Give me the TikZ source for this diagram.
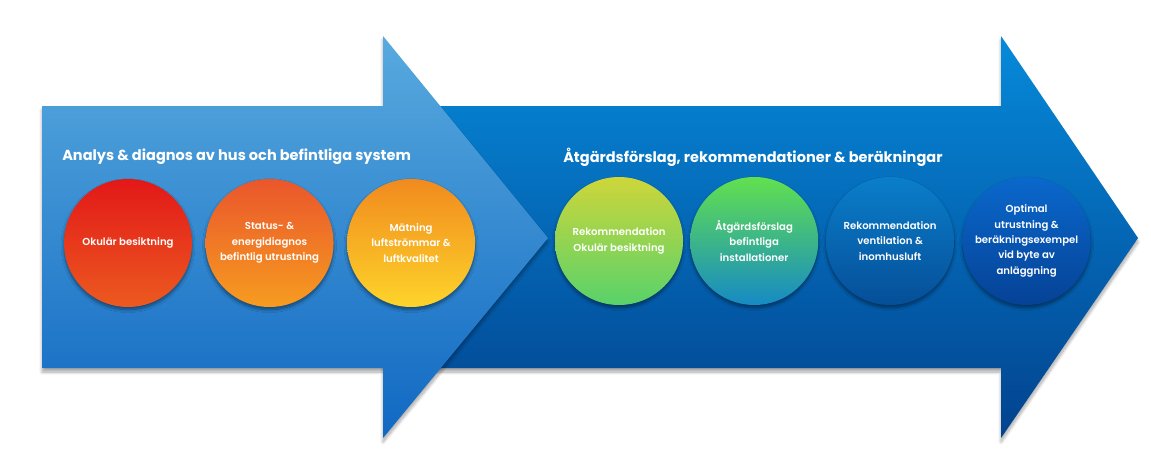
\documentclass[tikz,border=0pt]{standalone}
\usepackage{fontspec}
\setmainfont{Poppins}
\newfontfamily\bubblefont{Poppins SemiBold}
\usepackage{tikz}
\usetikzlibrary{positioning, shadows.blur}

\definecolor{phaseonetop}{RGB}{88,170,222}
\definecolor{phaseonebot}{RGB}{16,104,194}
\definecolor{phasetwotop}{RGB}{6,138,218}
\definecolor{phasetwobot}{RGB}{2,66,142}

\begin{document}
\begin{tikzpicture}[x=0.75pt, y=-0.75pt,
    bubble/.style={
      circle, minimum size=96pt, inner sep=0pt, align=center,
      text=white, font=\bubblefont\fontsize{7.6}{11.5}\selectfont,
      blur shadow={shadow xshift=0pt, shadow yshift=-2pt,
        shadow blur steps=10, shadow opacity=45}
    },
    headline/.style={anchor=west, inner sep=0pt, text=white,
      font=\bfseries\fontsize{10.9}{13}\selectfont},
    phaseshadow/.style={blur shadow={shadow xshift=0pt, shadow yshift=-3pt,
        shadow blur steps=10, shadow opacity=35}},
  ]
  \useasboundingbox (0,0) rectangle (1151,453);

  % the two big arrows
  \shade[phaseshadow, top color=phasetwotop, bottom color=phasetwobot]
    (383,106) -- (1001,106) -- (1001,36) -- (1138,238)
    -- (1001,438) -- (1001,368) -- (383,368) -- cycle;
  \shade[phaseshadow, top color=phaseonetop, bottom color=phaseonebot]
    (42,106) -- (383,106) -- (383,36) -- (548,238)
    -- (383,438) -- (383,368) -- (42,368) -- cycle;

  % headings
  \node[headline] (t1) at (62,157) {Analys \& diagnos av hus och befintliga system};
  \node[headline] (t2) at (563,157) {Åtgärdsförslag, rekommendationer \& beräkningar};

  % analysis
  \node[bubble, top color={rgb,255:red,226;green,24;blue,24}, bottom color={rgb,255:red,236;green,90;blue,32}]
    (b1) at (128,243) {Okulär besiktning};
  \node[bubble, top color={rgb,255:red,234;green,86;blue,44}, bottom color={rgb,255:red,246;green,156;blue,32}, right=9.75pt of b1]
    (b2) {Status- \&\\energidiagnos\\befintlig utrustning};
  \node[bubble, top color={rgb,255:red,241;green,138;blue,30}, bottom color={rgb,255:red,253;green,212;blue,42}, right=9.75pt of b2]
    (b3) {Mätning\\luftströmmar \&\\luftkvalitet};

  % recommendations
  \node[bubble, top color={rgb,255:red,206;green,214;blue,58}, bottom color={rgb,255:red,88;green,210;blue,106}]
    (b4) at (619,241) {Rekommendation\\Okulär besiktning};
  \node[bubble, top color={rgb,255:red,98;green,224;blue,78}, bottom color={rgb,255:red,22;green,138;blue,196}, right=5pt of b4]
    (b5) {Åtgärdsförslag\\befintliga\\installationer};
  \node[bubble, top color={rgb,255:red,10;green,126;blue,202}, bottom color={rgb,255:red,6;green,78;blue,152}, right=5.5pt of b5]
    (b6) {Rekommendation\\ventilation \&\\inomhusluft};
  \node[bubble, top color={rgb,255:red,10;green,104;blue,204}, bottom color={rgb,255:red,5;green,66;blue,150}, right=6pt of b6]
    (b7) {Optimal\\utrustning \&\\beräkningsexempel\\vid byte av\\anläggning};
\end{tikzpicture}
\end{document}
